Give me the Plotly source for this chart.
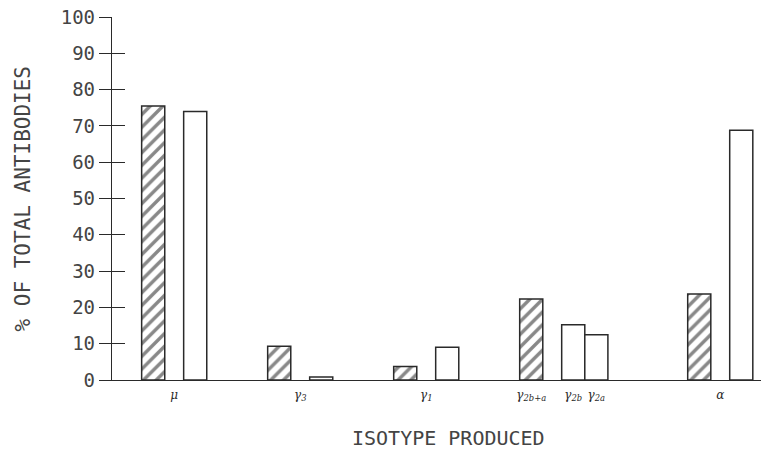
import plotly.graph_objects as go

# ---- data ----
hatched_labels = ["μ", "γ<sub>3</sub>", "γ<sub>1</sub>", "γ<sub>2b+a</sub>", "α"]
hatched_values = [75.5, 9.3, 3.7, 22.3, 23.7]

open_labels = ["μ", "γ<sub>3</sub>", "γ<sub>1</sub>", "γ<sub>2b</sub>", "γ<sub>2a</sub>", "α"]
open_values = [74.0, 0.8, 9.0, 15.2, 12.5, 68.8]

tick_labels = ["μ", "γ<sub>3</sub>", "γ<sub>1</sub>", "γ<sub>2b+a</sub>", "γ<sub>2b</sub>", "γ<sub>2a</sub>", "α"]
y_ticks = list(range(0, 101, 10))

# ---- layout of the bar slots (axis units) ----
BAR_W = 0.55
group_start = [0, 3, 6, 9, 13]          # hatched bar of each isotype group
hatched_x = list(group_start)
open_x = [group_start[0] + 1, group_start[1] + 1, group_start[2] + 1,
          group_start[3] + 1, group_start[3] + 1 + BAR_W, group_start[4] + 1]
tick_x = [group_start[0] + 0.5, group_start[1] + 0.5, group_start[2] + 0.5,
          hatched_x[3], open_x[3], open_x[4], group_start[4] + 0.5]

INK = "#2a2a2a"
FONT = "DejaVu Sans Mono"

W, H = 761, 451
L, R, T, B = 112, 0, 17, 71
PW, PH = W - L - R, H - T - B

fig = go.Figure()
fig.add_trace(go.Bar(
    x=hatched_x, y=hatched_values, width=BAR_W,
    marker=dict(color="white", line=dict(color=INK, width=1.5),
                pattern=dict(shape="/", fgcolor="#111", bgcolor="white", size=9, solidity=0.38)),
    hovertext=hatched_labels, showlegend=False,
))
fig.add_trace(go.Bar(
    x=open_x, y=open_values, width=BAR_W,
    marker=dict(color="white", line=dict(color=INK, width=1.5)),
    hovertext=open_labels, showlegend=False,
))

fig.update_layout(
    width=W, height=H,
    margin=dict(l=L, r=R, t=T, b=B),
    paper_bgcolor="white", plot_bgcolor="white",
    barmode="overlay",
    xaxis=dict(range=[-0.981, 14.47], showgrid=False, zeroline=False,
               showline=True, linecolor=INK, linewidth=1.3,
               tickmode="array", tickvals=tick_x, ticktext=tick_labels, ticks="",
               ticklabelstandoff=3,
               tickfont=dict(family="DejaVu Serif", size=12, color=INK, style="italic")),
    yaxis=dict(range=[0, 100], showgrid=False, zeroline=False,
               showline=True, linecolor=INK, linewidth=1.3,
               tickmode="array", tickvals=y_ticks,
               ticks="outside", ticklen=12, tickwidth=1.2, tickcolor=INK,
               tickfont=dict(family=FONT, size=19, color="#444")),
    yaxis2=dict(range=[0, 100], overlaying="y", anchor="x", side="left",
                showgrid=False, zeroline=False, showline=False,
                tickmode="array", tickvals=y_ticks,
                ticks="inside", ticklen=13, tickwidth=1.2, tickcolor=INK,
                showticklabels=False),
    annotations=[
        dict(text="% OF TOTAL ANTIBODIES", xref="paper", yref="paper",
             x=(22 - L) / PW, y=0.5, textangle=-90, showarrow=False,
             xanchor="center", yanchor="middle",
             font=dict(family=FONT, size=21, color="#444")),
        dict(text="ISOTYPE PRODUCED", xref="paper", yref="paper",
             x=(448 - L) / PW, y=-(438 - (T + PH)) / PH, showarrow=False,
             xanchor="center", yanchor="middle",
             font=dict(family=FONT, size=20, color="#444")),
    ],
)
# invisible trace that activates the overlaid axis carrying the inner tick halves
fig.add_trace(go.Scatter(x=[0], y=[0], yaxis="y2", mode="markers",
                         marker=dict(opacity=0), showlegend=False, hoverinfo="skip"))

# remove the default 8px body margin so the figure fills the window exactly
fig.write_html("out.html", config={"displayModeBar": False},
               post_script="document.body.style.margin='0px';")
